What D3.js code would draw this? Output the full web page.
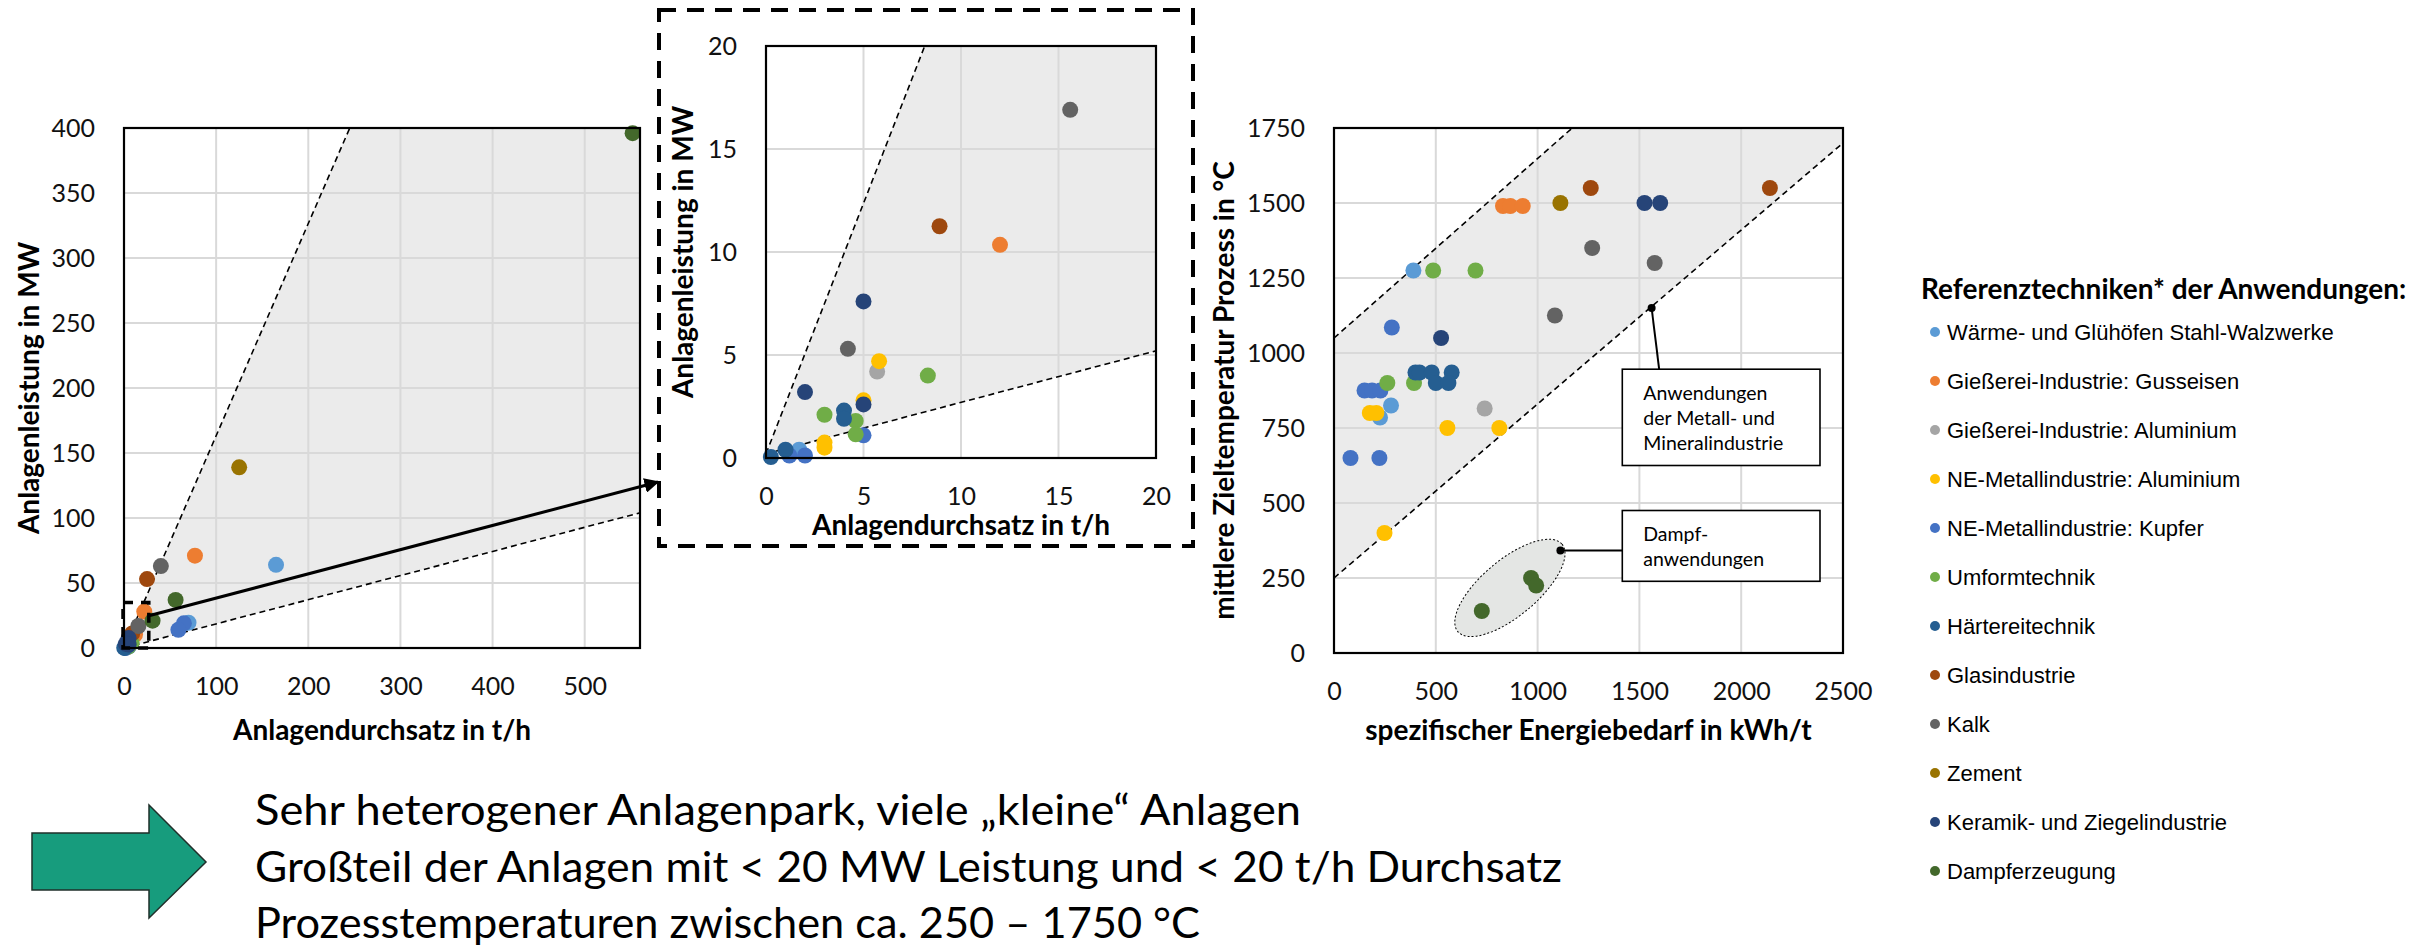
<!DOCTYPE html>
<html>
<head>
<meta charset="utf-8">
<script src="https://cdn.jsdelivr.net/npm/d3@7"></script>
<style>
    body { margin: 0; background: #fff; }
    svg { display: block; font-family: Lato, 'Open Sans', sans-serif; }
</style>
</head>
<body>
<div id="chart"></div>
<script>

// legend categories and their Excel colours
const categories = [
    'Wärme- und Glühöfen Stahl-Walzwerke',
    'Gießerei-Industrie: Gusseisen',
    'Gießerei-Industrie: Aluminium',
    'NE-Metallindustrie: Aluminium',
    'NE-Metallindustrie: Kupfer',
    'Umformtechnik',
    'Härtereitechnik',
    'Glasindustrie',
    'Kalk',
    'Zement',
    'Keramik- und Ziegelindustrie',
    'Dampferzeugung'
];
const categoryColors = ['#5b9bd5', '#ed7d31', '#a5a5a5', '#ffc000', '#4472c4', '#70ad47',
    '#255e91', '#9e480e', '#636363', '#997300', '#264478', '#43682b'];

// [category, Anlagendurchsatz t/h, Anlagenleistung MW]
const capacityPoints = [
    [0, 165, 64], [0, 70, 19.5], [0, 1.7, 0.4],
    [1, 77, 71], [1, 22, 28], [1, 12.0, 10.35],
    [2, 5.7, 4.2],
    [3, 5.8, 4.7], [3, 5.0, 2.8], [3, 3.0, 0.75], [3, 3.0, 0.5],
    [4, 65, 19], [4, 59, 14], [4, 5.0, 1.1], [4, 1.2, 0.12], [4, 2.0, 0.12],
    [5, 8.3, 4.0], [5, 3.0, 2.1], [5, 4.6, 1.8], [5, 4.6, 1.15],
    [6, 4.0, 2.3], [6, 4.0, 1.9], [6, 1.0, 0.4], [6, 0.25, 0.05],
    [7, 25, 53], [7, 8.9, 11.25],
    [8, 40, 63], [8, 15.6, 16.9], [8, 4.2, 5.3],
    [9, 125, 139],
    [10, 5.0, 7.6], [10, 2.0, 3.2], [10, 5.0, 2.6],
    [11, 552, 396], [11, 56, 37], [11, 31, 21]
];

// [category, spezifischer Energiebedarf kWh/t, Zieltemperatur °C]
const temperaturePoints = [
    [0, 390, 1275], [0, 280, 825], [0, 226, 785],
    [1, 830, 1490], [1, 866, 1490], [1, 927, 1490],
    [2, 740, 815],
    [3, 176, 800], [3, 208, 800], [3, 557, 750], [3, 812, 750], [3, 248, 400],
    [4, 284, 1085], [4, 150, 875], [4, 187, 875], [4, 228, 875], [4, 81, 650], [4, 223, 650],
    [5, 487, 1275], [5, 695, 1275], [5, 262, 900], [5, 393, 900],
    [6, 400, 935], [6, 420, 935], [6, 480, 935], [6, 578, 935], [6, 500, 900], [6, 562, 900],
    [7, 1261, 1550], [7, 2141, 1550],
    [8, 1268, 1350], [8, 1575, 1300], [8, 1085, 1125],
    [9, 1112, 1500],
    [10, 1525, 1500], [10, 1602, 1500], [10, 526, 1050],
    [11, 968, 250], [11, 993, 225], [11, 726, 140]
];

// tick labels
const overviewXTicks = [0, 100, 200, 300, 400, 500];
const overviewYTicks = [0, 50, 100, 150, 200, 250, 300, 350, 400];
const detailTicks = [0, 5, 10, 15, 20];
const energyTicks = [0, 500, 1000, 1500, 2000, 2500];
const temperatureTicks = [0, 250, 500, 750, 1000, 1250, 1500, 1750];

// hand drawn guide lines (data units)
const overviewUpper = [[0, 0], [245, 400]];
const overviewLower = [[0, 0], [560, 104]];
const detailUpper = [[0, 0.2], [8.14, 20]];
const detailLower = [[0, 0.2], [20, 5.2]];
const energyUpper = [[0, 1050], [1170, 1750]];
const energyLower = [[0, 250], [2500, 1700]];

const summaryLines = [
    'Sehr heterogener Anlagenpark, viele \u201Ekleine\u201C Anlagen',
    'Großteil der Anlagen mit < 20 MW Leistung und < 20 t/h Durchsatz',
    'Prozesstemperaturen zwischen ca. 250 \u2013 1750 °C'
];

const svg = d3.select('#chart')
    .append('svg')
    .attr('width', 2420)
    .attr('height', 947);

const defs = svg.append('defs');
defs.append('marker')
    .attr('id', 'arrowHead')
    .attr('viewBox', '0 0 10 10')
    .attr('refX', 9)
    .attr('refY', 5)
    .attr('markerWidth', 5)
    .attr('markerHeight', 5)
    .attr('orient', 'auto')
    .append('path')
    .attr('d', 'M0,0 L10,5 L0,10 z')
    .attr('fill', '#000');

const scatterPanel = (props) => {

    const {
        id, left, top, width, height,
        xDomain, yDomain, xTicks, yTicks,
        points, upper, lower,
        xTitle, yTitle, xTitleY, yTitleX,
        radius = 8
    } = props;

    const x = d3.scaleLinear().domain(xDomain).range([left, left + width]);
    const y = d3.scaleLinear().domain(yDomain).range([top + height, top]);

    const g = svg.append('g');

    defs.append('clipPath')
        .attr('id', id)
        .append('rect')
        .attr('x', left).attr('y', top)
        .attr('width', width).attr('height', height);

    const plot = g.append('g').attr('clip-path', `url(#${id})`);

    // shaded band between the guide lines
    const band = [upper[0], upper[1], [xDomain[1], yDomain[1]], [xDomain[1], yDomain[0]], lower[1], lower[0]];
    plot.append('polygon')
        .attr('points', band.map(d => `${x(Math.min(d[0], xDomain[1]))},${y(Math.min(d[1], yDomain[1]))}`).join(' '))
        .attr('fill', '#ebebeb');

    // cut the area below the lower guide line back to white
    plot.append('polygon')
        .attr('points', [lower[1], [xDomain[1], yDomain[0]], lower[0]]
            .map(d => `${x(d[0])},${y(d[1])}`).join(' '))
        .attr('fill', '#fff');

    plot.selectAll('.vgrid')
        .data(xTicks.filter(d => d > xDomain[0] && d < xDomain[1]))
        .join('line')
        .attr('x1', d => x(d)).attr('x2', d => x(d))
        .attr('y1', top).attr('y2', top + height)
        .attr('stroke', '#d9d9d9').attr('stroke-width', 2);

    plot.selectAll('.hgrid')
        .data(yTicks.filter(d => d > yDomain[0] && d < yDomain[1]))
        .join('line')
        .attr('x1', left).attr('x2', left + width)
        .attr('y1', d => y(d)).attr('y2', d => y(d))
        .attr('stroke', '#d9d9d9').attr('stroke-width', 2);

    const line = d3.line().x(d => x(d[0])).y(d => y(d[1]));
    plot.selectAll('.guide')
        .data([upper, lower])
        .join('path')
        .attr('d', line)
        .attr('fill', 'none')
        .attr('stroke', '#000')
        .attr('stroke-width', 1.6)
        .attr('stroke-dasharray', '6,4');

    const markLayer = g.append('g');

    markLayer.selectAll('circle')
        .data(points.filter(d => d[1] <= xDomain[1] && d[2] <= yDomain[1]))
        .join('circle')
        .attr('cx', d => x(d[1]))
        .attr('cy', d => y(d[2]))
        .attr('r', radius)
        .attr('fill', d => categoryColors[d[0]]);

    g.append('rect')
        .attr('x', left).attr('y', top)
        .attr('width', width).attr('height', height)
        .attr('fill', 'none')
        .attr('stroke', '#000')
        .attr('stroke-width', 2.2);

    const styleAxis = a => {
        a.select('.domain').remove();
        a.selectAll('text')
            .attr('font-family', 'Lato, sans-serif')
            .attr('font-size', 25)
            .attr('fill', '#111');
    };

    g.append('g')
        .attr('transform', `translate(0, ${top + height})`)
        .call(d3.axisBottom(x).tickValues(xTicks).tickSize(0).tickPadding(29).tickFormat(d => d))
        .call(styleAxis);

    g.append('g')
        .attr('transform', `translate(${left}, 0)`)
        .call(d3.axisLeft(y).tickValues(yTicks).tickSize(0).tickPadding(29).tickFormat(d => d))
        .call(styleAxis);

    g.append('text')
        .attr('x', left + width / 2)
        .attr('y', xTitleY)
        .attr('text-anchor', 'middle')
        .attr('dominant-baseline', 'central')
        .attr('font-weight', 700)
        .attr('font-size', 28)
        .text(xTitle);

    g.append('text')
        .attr('transform', `translate(${yTitleX}, ${top + height / 2}) rotate(-90)`)
        .attr('text-anchor', 'middle')
        .attr('dominant-baseline', 'central')
        .attr('font-weight', 700)
        .attr('font-size', 28)
        .text(yTitle);

    return { x, y, g, markLayer };
};

// left: overview
const overview = scatterPanel({
    id: 'clipOverview', left: 124, top: 128, width: 516, height: 520,
    xDomain: [0, 560], yDomain: [0, 400],
    xTicks: overviewXTicks, yTicks: overviewYTicks,
    points: capacityPoints, upper: overviewUpper, lower: overviewLower,
    xTitle: 'Anlagendurchsatz in t/h', yTitle: 'Anlagenleistung in MW',
    xTitleY: 729, yTitleX: 28
});

// middle: detail of the small plants
const detailFrame = { x: 659, y: 10, width: 534, height: 536 };
svg.append('rect')
    .attr('x', detailFrame.x).attr('y', detailFrame.y)
    .attr('width', detailFrame.width).attr('height', detailFrame.height)
    .attr('fill', 'none')
    .attr('stroke', '#000')
    .attr('stroke-width', 4)
    .attr('stroke-dasharray', '17,11');

scatterPanel({
    id: 'clipDetail', left: 766, top: 46, width: 390, height: 412,
    xDomain: [0, 20], yDomain: [0, 20],
    xTicks: detailTicks, yTicks: detailTicks,
    points: capacityPoints, upper: detailUpper, lower: detailLower,
    xTitle: 'Anlagendurchsatz in t/h', yTitle: 'Anlagenleistung in MW',
    xTitleY: 524, yTitleX: 682
});

// zoom box and arrow on the overview
const zoomBox = [[0, 0], [28, 35]];
overview.g.append('rect')
    .attr('x', overview.x(zoomBox[0][0]) - 1)
    .attr('y', overview.y(zoomBox[1][1]))
    .attr('width', overview.x(zoomBox[1][0]) - overview.x(zoomBox[0][0]))
    .attr('height', overview.y(zoomBox[0][1]) - overview.y(zoomBox[1][1]))
    .attr('fill', 'none')
    .attr('stroke', '#000')
    .attr('stroke-width', 3.5)
    .attr('stroke-dasharray', '10,8');

overview.g.append('line')
    .attr('x1', overview.x(zoomBox[1][0]))
    .attr('y1', overview.y(25))
    .attr('x2', detailFrame.x - 1)
    .attr('y2', 482)
    .attr('stroke', '#000')
    .attr('stroke-width', 3)
    .attr('marker-end', 'url(#arrowHead)');

// right: temperature vs. energy demand
const energy = scatterPanel({
    id: 'clipEnergy', left: 1334, top: 128, width: 509, height: 525,
    xDomain: [0, 2500], yDomain: [0, 1750],
    xTicks: energyTicks, yTicks: temperatureTicks,
    points: [], upper: energyUpper, lower: energyLower,
    xTitle: 'spezifischer Energiebedarf in kWh/t', yTitle: 'mittlere Zieltemperatur Prozess in °C',
    xTitleY: 729, yTitleX: 1223
});

// ellipse around the steam applications
const steamCenter = [864, 217];
energy.markLayer.append('ellipse')
    .attr('transform', `translate(${energy.x(steamCenter[0])}, ${energy.y(steamCenter[1])}) rotate(-40)`)
    .attr('rx', 68)
    .attr('ry', 28)
    .attr('fill', '#e4e6e4')
    .attr('stroke', '#000')
    .attr('stroke-width', 1)
    .attr('stroke-dasharray', '2,2');

energy.markLayer.selectAll('.pt')
    .data(temperaturePoints)
    .join('circle')
    .attr('cx', d => energy.x(d[1]))
    .attr('cy', d => energy.y(d[2]))
    .attr('r', 8)
    .attr('fill', d => categoryColors[d[0]]);

// callout boxes (data units)
const callouts = [
    { lines: ['Anwendungen', 'der Metall- und', 'Mineralindustrie'], box: [1416, 946, 2387, 625],
      anchor: [1560, 1150], joint: [1597, 946] },
    { lines: ['Dampf-', 'anwendungen'], box: [1416, 475, 2387, 239],
      anchor: [1112, 342], joint: [1416, 342] }
];

callouts.forEach(c => {
    const bx = energy.x(c.box[0]);
    const by = energy.y(c.box[1]);
    energy.g.append('line')
        .attr('x1', energy.x(c.anchor[0])).attr('y1', energy.y(c.anchor[1]))
        .attr('x2', energy.x(c.joint[0])).attr('y2', energy.y(c.joint[1]))
        .attr('stroke', '#000').attr('stroke-width', 2);
    energy.g.append('circle')
        .attr('cx', energy.x(c.anchor[0])).attr('cy', energy.y(c.anchor[1]))
        .attr('r', 4).attr('fill', '#000');
    energy.g.append('rect')
        .attr('x', bx).attr('y', by)
        .attr('width', energy.x(c.box[2]) - bx)
        .attr('height', energy.y(c.box[3]) - by)
        .attr('fill', '#fff')
        .attr('stroke', '#000')
        .attr('stroke-width', 1.6);
    energy.g.selectAll(null)
        .data(c.lines)
        .join('text')
        .attr('x', bx + 21)
        .attr('y', (d, i) => by + 23 + i * 25)
        .attr('dominant-baseline', 'central')
        .attr('font-size', 19.5)
        .text(d => d);
});

// legend
const legend = svg.append('g').attr('transform', 'translate(1921, 0)');
legend.append('text')
    .attr('x', 0)
    .attr('y', 288)
    .attr('dominant-baseline', 'central')
    .attr('font-weight', 700)
    .attr('font-size', 28)
    .text('Referenztechniken* der Anwendungen:');

const legendRow = legend.selectAll('.row')
    .data(categories)
    .join('g')
    .attr('transform', (d, i) => `translate(0, ${332 + i * 49})`);

legendRow.append('circle')
    .attr('cx', 14)
    .attr('r', 5)
    .attr('fill', (d, i) => categoryColors[i]);

legendRow.append('text')
    .attr('x', 26)
    .attr('dominant-baseline', 'central')
    .attr('font-family', "'Liberation Sans', Arial, sans-serif")
    .attr('font-size', 22)
    .text(d => d);

// summary arrow and text
const arrowShape = [[32, 833], [149, 833], [149, 805], [206, 862], [149, 918], [149, 890], [32, 890]];
svg.append('polygon')
    .attr('points', arrowShape.map(d => d.join(',')).join(' '))
    .attr('fill', '#179c7d')
    .attr('stroke', '#1f2f2a')
    .attr('stroke-width', 1.5);

const lineWidths = [1046, 1307, 945];
svg.selectAll('.summary')
    .data(summaryLines)
    .join('text')
    .attr('x', 255)
    .attr('y', (d, i) => 825 + i * 56.5)
    .attr('font-size', 42)
    .attr('textLength', (d, i) => lineWidths[i])
    .attr('lengthAdjust', 'spacingAndGlyphs')
    .text(d => d);

</script>
</body>
</html>
